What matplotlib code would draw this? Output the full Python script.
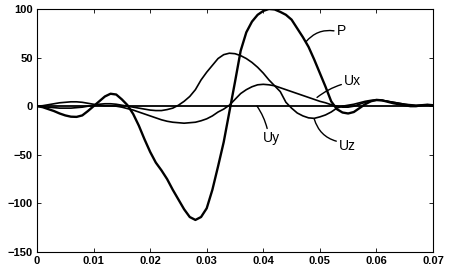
import matplotlib
matplotlib.use("Agg")
import matplotlib.pyplot as plt
import numpy as np

# time axis, 0 .. 0.07 s at 1 ms steps
t = np.linspace(0.0, 0.07, 71)

P = [0, -1, -3, -5, -7.5, -9.5, -10.8, -11, -9.5, -5,
     0, 5, 10, 12.8, 12, 7, 1, -8, -20, -34,
     -47, -58, -66, -75, -86, -96, -106, -114, -117, -114,
     -105, -86, -62, -37, -6, 25, 57, 76, 87, 94,
     98, 100, 99.5, 97, 94, 89, 80, 71, 61, 48,
     34, 20, 5, -3, -6.5, -7.5, -6, -2, 2, 5,
     6.5, 6, 4.5, 3, 2, 1, 0, 0, 1, 1.5, 1]

Ux = [0, 0.5, 1.5, 2.5, 3.5, 4, 4.5, 4.5, 4, 3,
      2, 1, 0.5, 0.5, 0, -1, -2.5, -4, -6, -8,
      -10, -12, -14, -15.5, -16.5, -17, -17.5, -17, -16.5, -15,
      -13, -10, -6, -3, 1, 7, 13, 17, 20, 22,
      22.5, 22, 21, 19, 17, 15, 13, 11, 9, 7,
      5, 3.5, 1.5, 0, -1, -1, 0, 2, 4, 5.5,
      6, 6, 5, 4, 3, 2, 1, 0.5, 1, 1.5, 1]

Uz = [0, -0.5, -1, -1.5, -2, -2, -2, -1.5, -1, 0,
      1, 2, 2.5, 2.5, 2, 1, 0, -1, -2, -3,
      -4, -4.5, -4.5, -3.5, -2, 1, 5, 10, 17, 27,
      35, 42, 49, 53, 54.5, 54, 52, 49, 45, 40,
      34, 27, 21, 15, 4, -2, -7, -10, -12, -12.5,
      -11, -9, -6, -2, 0, 1, 2, 3.5, 5, 6,
      6.5, 6, 5, 4, 3, 2, 1.5, 1, 1, 1, 1]

Uy = [0] * 71

x_ticks = [0, 0.01, 0.02, 0.03, 0.04, 0.05, 0.06, 0.07]
x_tick_labels = ["0", "0.01", "0.02", "0.03", "0.04", "0.05", "0.06", "0.07"]
y_ticks = [-150, -100, -50, 0, 50, 100]

fig = plt.figure(figsize=(4.49, 2.72), dpi=100)
ax = fig.add_axes([0.0824, 0.0735, 0.882, 0.8935])

ax.plot(t, Uy, color="black", linewidth=1.3)
ax.plot(t, Ux, color="black", linewidth=1.2)
ax.plot(t, Uz, color="black", linewidth=1.2)
ax.plot(t, P, color="black", linewidth=1.7)

ax.set_xlim(0, 0.07)
ax.set_ylim(-150, 100)
ax.set_xticks(x_ticks)
ax.set_xticklabels(x_tick_labels)
ax.set_yticks(y_ticks)
ax.tick_params(direction="in", length=3, width=0.6, top=True, right=True,
               labelsize=8, pad=3)
for lab in ax.get_xticklabels() + ax.get_yticklabels():
    lab.set_fontweight("bold")
    lab.set_family("Liberation Sans")
for s in ax.spines.values():
    s.set_linewidth(0.8)

# curve labels with curved leader lines
arrow = dict(arrowstyle="-", color="black", linewidth=1.0, shrinkA=0, shrinkB=0)
ax.annotate("P", xy=(0.0475, 66), xytext=(0.0538, 77), fontsize=10,
            family="Liberation Sans", va="center", ha="center",
            arrowprops=dict(arrow, connectionstyle="arc3,rad=0.3",
                            relpos=(0, 0.5)))
ax.annotate("Ux", xy=(0.0495, 9), xytext=(0.0558, 26), fontsize=10,
            family="Liberation Sans", va="center", ha="center",
            arrowprops=dict(arrow, connectionstyle="arc3,rad=0.1",
                            relpos=(0, 0.3)))
ax.annotate("Uy", xy=(0.0389, 0), xytext=(0.0414, -33), fontsize=10,
            family="Liberation Sans", va="center", ha="center",
            arrowprops=dict(arrow, connectionstyle="arc3,rad=0.1",
                            relpos=(0.3, 1)))
ax.annotate("Uz", xy=(0.049, -13), xytext=(0.0549, -41), fontsize=10,
            family="Liberation Sans", va="center", ha="center",
            arrowprops=dict(arrow, connectionstyle="arc3,rad=-0.3",
                            relpos=(0, 0.8)))

fig.savefig("out.png", dpi=100)
